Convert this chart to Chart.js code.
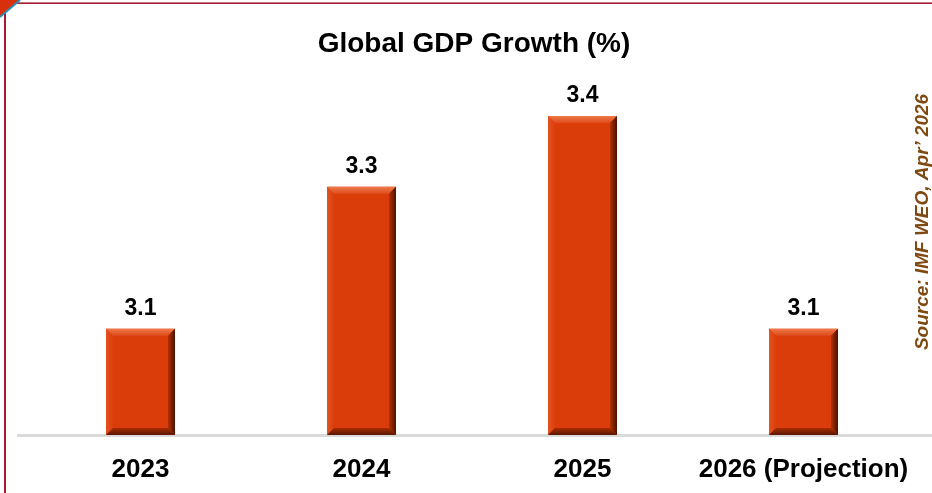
<!DOCTYPE html>
<html>
<head>
<meta charset="utf-8">
<script src="https://cdn.jsdelivr.net/npm/chart.js@4.4.0/dist/chart.umd.min.js"></script>
<style>
  html, body { margin: 0; padding: 0; background: #ffffff; }
  #wrap { width: 932px; height: 493px; position: relative; }
</style>
</head>
<body>
<div id="wrap"><canvas id="c" width="932" height="493"></canvas></div>
<script>
const categories = ["2023", "2024", "2025", "2026 (Projection)"];
const gdpGrowth = [3.1, 3.3, 3.4, 3.1];
const valueLabels = ["3.1", "3.3", "3.4", "3.1"];
const yMin = 2.95;
const yMax = 3.5;
const chartTitle = "Global GDP Growth (%)";
const sourceNote = "Source: IMF WEO, Apr\u2019 2026";

const FONT = "'Liberation Sans', Arial, Helvetica, sans-serif";

const framePlugin = {
  id: 'frame',
  beforeDraw(chart) {
    const ctx = chart.ctx;
    ctx.save();
    ctx.fillStyle = '#ffffff';
    ctx.fillRect(0, 0, chart.width, chart.height);
    // top border
    ctx.fillStyle = '#C8707E';
    ctx.fillRect(5, 2, chart.width - 5, 1);
    ctx.fillStyle = '#A51C33';
    ctx.fillRect(5, 3, chart.width - 5, 1);
    // left border
    ctx.fillStyle = '#A51C33';
    ctx.fillRect(4, 3, 2, chart.height - 3);
    // corner triangle
    ctx.beginPath();
    ctx.moveTo(0, 0); ctx.lineTo(20, 0); ctx.lineTo(0, 17); ctx.closePath();
    ctx.fillStyle = '#D8300A';
    ctx.fill();
    ctx.beginPath();
    ctx.moveTo(20, 0); ctx.lineTo(0, 17);
    ctx.strokeStyle = '#2A8FB8';
    ctx.lineWidth = 2;
    ctx.stroke();
    // baseline
    const ys = chart.scales.y;
    const by = ys.getPixelForValue(ys.min);
    ctx.fillStyle = '#D9D9D9';
    ctx.fillRect(17, by - 1, chart.width - 17, 3);
    ctx.restore();
  },
  afterDatasetsDraw(chart) {
    const ctx = chart.ctx;
    const meta = chart.getDatasetMeta(0);
    ctx.save();
    meta.data.forEach((bar, i) => {
      const w = bar.width;
      const l = bar.x - w / 2, r = bar.x + w / 2;
      const t = bar.y, b = bar.base;
      const bv = 7;
      // top bevel
      let g = ctx.createLinearGradient(0, t, 0, t + bv);
      g.addColorStop(0, '#EE7A4C');
      g.addColorStop(1, '#DE4C1A');
      ctx.beginPath();
      ctx.moveTo(l, t); ctx.lineTo(r, t); ctx.lineTo(r - bv, t + bv); ctx.lineTo(l + bv, t + bv); ctx.closePath();
      ctx.fillStyle = g; ctx.fill();
      // left bevel
      g = ctx.createLinearGradient(l, 0, l + bv, 0);
      g.addColorStop(0, '#E3531F');
      g.addColorStop(1, '#DA3F0C');
      ctx.beginPath();
      ctx.moveTo(l, t); ctx.lineTo(l + bv, t + bv); ctx.lineTo(l + bv, b - bv); ctx.lineTo(l, b); ctx.closePath();
      ctx.fillStyle = g; ctx.fill();
      // right bevel
      g = ctx.createLinearGradient(r - bv, 0, r, 0);
      g.addColorStop(0, '#B53200');
      g.addColorStop(1, '#4A1200');
      ctx.beginPath();
      ctx.moveTo(r, t); ctx.lineTo(r, b); ctx.lineTo(r - bv, b - bv); ctx.lineTo(r - bv, t + bv); ctx.closePath();
      ctx.fillStyle = g; ctx.fill();
      // bottom bevel
      g = ctx.createLinearGradient(0, b - bv, 0, b);
      g.addColorStop(0, '#A82C00');
      g.addColorStop(1, '#5A1800');
      ctx.beginPath();
      ctx.moveTo(l, b); ctx.lineTo(r, b); ctx.lineTo(r - bv, b - bv); ctx.lineTo(l + bv, b - bv); ctx.closePath();
      ctx.fillStyle = g; ctx.fill();
      // value label
      ctx.fillStyle = '#000000';
      ctx.font = "bold 23px " + FONT;
      ctx.textAlign = 'center';
      ctx.textBaseline = 'alphabetic';
      ctx.fillText(valueLabels[i], bar.x, t - 14);
    });
    // title
    ctx.fillStyle = '#000000';
    ctx.font = "bold 28px " + FONT;
    ctx.textAlign = 'center';
    ctx.textBaseline = 'alphabetic';
    ctx.fillText(chartTitle, 474, 52);
    // source
    ctx.translate(928, 222);
    ctx.rotate(-Math.PI / 2);
    ctx.fillStyle = '#7F4A12';
    ctx.font = "italic bold 19px " + FONT;
    ctx.fillText(sourceNote, 0, 0);
    ctx.restore();
  }
};

new Chart(document.getElementById('c'), {
  type: 'bar',
  data: {
    labels: categories,
    datasets: [{
      data: gdpGrowth,
      base: yMin,
      backgroundColor: '#DA3D0A',
      borderWidth: 0,
      categoryPercentage: 1,
      barPercentage: 0.312
    }]
  },
  options: {
    responsive: false,
    animation: false,
    devicePixelRatio: 1,
    layout: { padding: { left: 30, right: 18, top: 45, bottom: 10 } },
    plugins: {
      legend: { display: false },
      title: { display: false },
      tooltip: { enabled: false }
    },
    scales: {
      x: {
        grid: { display: false, drawTicks: false },
        border: { display: false },
        afterFit(scale) { scale.height = 48; },
        ticks: {
          color: '#000000',
          font: { family: FONT, size: 26, weight: 'bold' },
          padding: 19,
          maxRotation: 0,
          autoSkip: false
        }
      },
      y: {
        display: false,
        min: yMin,
        max: yMax
      }
    }
  },
  plugins: [framePlugin]
});
</script>
</body>
</html>
